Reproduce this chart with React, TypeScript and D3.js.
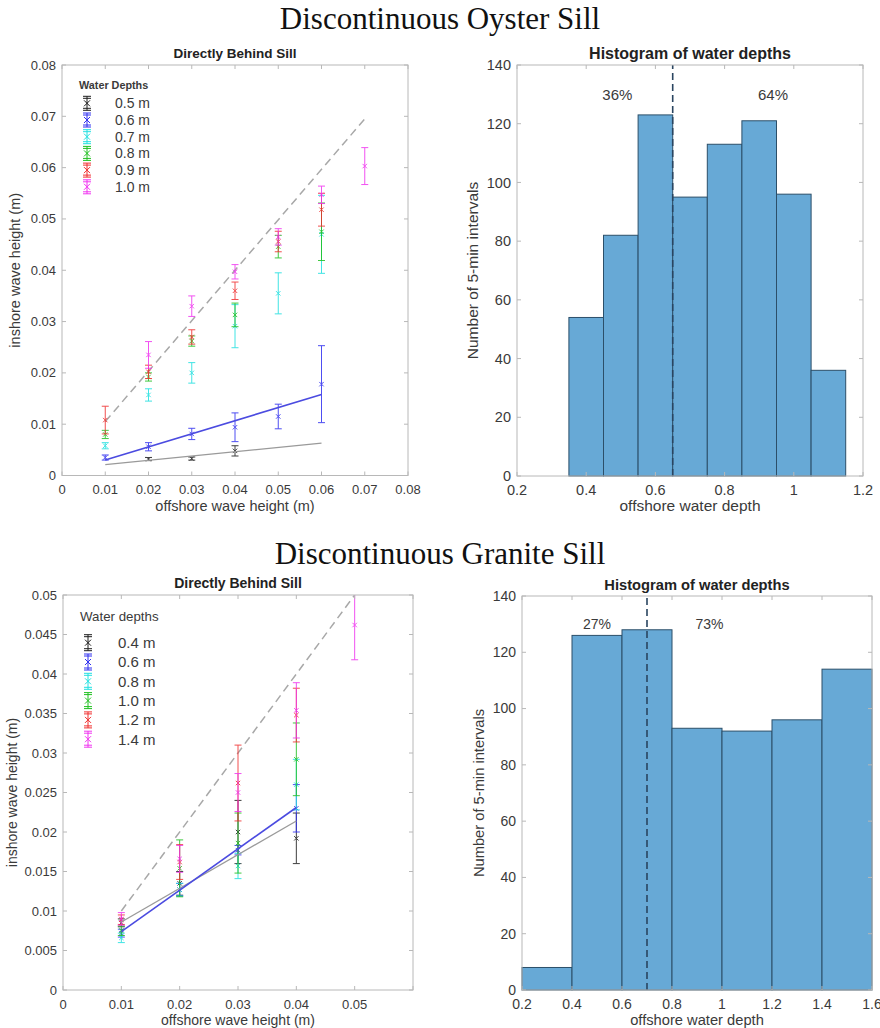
import React from 'react';
import * as d3 from 'd3';

const FONT = "'Liberation Sans', Arial, Helvetica, sans-serif";
const SERIF = "'Liberation Serif', 'Times New Roman', serif";

// ---------- Oyster sill scatter data ----------
const oysterDepthLabels = ['0.5 m', '0.6 m', '0.7 m', '0.8 m', '0.9 m', '1.0 m'];
const oysterX05 = [0.02, 0.03, 0.04];
const oysterY05 = [0.0032, 0.0033, 0.0048];
const oysterE05 = [0.0003, 0.0003, 0.001];
const oysterX06 = [0.01, 0.02, 0.03, 0.04, 0.05, 0.06];
const oysterY06 = [0.0035, 0.0056, 0.0081, 0.0094, 0.0115, 0.0178];
const oysterE06 = [0.0005, 0.0008, 0.0011, 0.0028, 0.0024, 0.0075];
const oysterX07 = [0.01, 0.02, 0.03, 0.04, 0.05, 0.06];
const oysterY07 = [0.0058, 0.0157, 0.02, 0.0291, 0.0355, 0.047];
const oysterE07 = [0.0006, 0.0012, 0.002, 0.0042, 0.004, 0.0076];
const oysterX08 = [0.01, 0.02, 0.03, 0.04, 0.05, 0.06];
const oysterY08 = [0.008, 0.0192, 0.0262, 0.0313, 0.0446, 0.0475];
const oysterE08 = [0.0008, 0.0008, 0.001, 0.0023, 0.0022, 0.0056];
const oysterX09 = [0.01, 0.02, 0.03, 0.04, 0.05, 0.06];
const oysterY09 = [0.0108, 0.0202, 0.027, 0.036, 0.0456, 0.0518];
const oysterE09 = [0.0027, 0.0013, 0.0014, 0.0017, 0.002, 0.0032];
const oysterX10 = [0.02, 0.03, 0.04, 0.05, 0.06, 0.07];
const oysterY10 = [0.0235, 0.033, 0.0397, 0.0465, 0.0547, 0.0603];
const oysterE10 = [0.0026, 0.002, 0.0014, 0.0016, 0.0017, 0.0036];
const oysterOneToOne = { x: [0.01, 0.07], y: [0.0105, 0.0695] };
const oysterFitBlue = { x: [0.01, 0.06], y: [0.003, 0.0158] };
const oysterFitGray = { x: [0.01, 0.06], y: [0.0021, 0.0063] };
const oysterXTicks = [0, 0.01, 0.02, 0.03, 0.04, 0.05, 0.06, 0.07, 0.08];
const oysterYTicks = [0, 0.01, 0.02, 0.03, 0.04, 0.05, 0.06, 0.07, 0.08];

// ---------- Granite sill scatter data ----------
const graniteDepthLabels = ['0.4 m', '0.6 m', '0.8 m', '1.0 m', '1.2 m', '1.4 m'];
const graniteX04 = [0.01, 0.02, 0.03, 0.04];
const graniteY04 = [0.0085, 0.0135, 0.02, 0.0192];
const graniteE04 = [0.0005, 0.0015, 0.004, 0.0032];
const graniteX06 = [0.01, 0.02, 0.03, 0.04];
const graniteY06 = [0.0072, 0.0127, 0.0177, 0.023];
const graniteE06 = [0.0005, 0.0008, 0.0006, 0.003];
const graniteX08 = [0.01, 0.02, 0.03, 0.04];
const graniteY08 = [0.0066, 0.0127, 0.0157, 0.026];
const graniteE08 = [0.0006, 0.0008, 0.0016, 0.0032];
const graniteX10 = [0.01, 0.02, 0.03, 0.04];
const graniteY10 = [0.0075, 0.0154, 0.0186, 0.0292];
const graniteE10 = [0.0006, 0.0036, 0.0038, 0.0046];
const graniteX12 = [0.01, 0.02, 0.03, 0.04];
const graniteY12 = [0.0089, 0.0162, 0.0262, 0.0348];
const graniteE12 = [0.0006, 0.0022, 0.0048, 0.0034];
const graniteX14 = [0.01, 0.02, 0.03, 0.04, 0.05];
const graniteY14 = [0.009, 0.0166, 0.025, 0.0354, 0.0462];
const graniteE14 = [0.0008, 0.0017, 0.0024, 0.0035, 0.0044];
const graniteOneToOne = { x: [0.01, 0.05], y: [0.01, 0.05] };
const graniteFitBlue = { x: [0.01, 0.04], y: [0.0074, 0.0231] };
const graniteFitGray = { x: [0.01, 0.04], y: [0.0086, 0.0214] };
const graniteXTicks = [0, 0.01, 0.02, 0.03, 0.04, 0.05];
const graniteYTicks = [0, 0.005, 0.01, 0.015, 0.02, 0.025, 0.03, 0.035, 0.04, 0.045, 0.05];

// ---------- Histograms ----------
const oysterBinEdges = [0.35, 0.45, 0.55, 0.65, 0.75, 0.85, 0.95, 1.05, 1.15];
const oysterCounts = [54, 82, 123, 95, 113, 121, 96, 36];
const oysterSplit = 0.65;
const oysterPctLabels = ['36%', '64%'];
const oysterPctX = [0.49, 0.94];
const oysterHistXTicks = [0.2, 0.4, 0.6, 0.8, 1, 1.2];

const graniteBinEdges = [0.2, 0.4, 0.6, 0.8, 1.0, 1.2, 1.4, 1.6];
const graniteCounts = [8, 126, 128, 93, 92, 96, 114];
const graniteSplit = 0.7;
const granitePctLabels = ['27%', '73%'];
const granitePctX = [0.5, 0.95];
const graniteHistXTicks = [0.2, 0.4, 0.6, 0.8, 1, 1.2, 1.4, 1.6];
const histYTicks = [0, 20, 40, 60, 80, 100, 120, 140];

const seriesColors = ['#1e1e1e', '#3030f0', '#20e0e0', '#20c020', '#f03030', '#f035f0'];
const BOX = '#b8b8b8';
const TXT = '#3a3a3a';

type Series = { x: number[]; y: number[]; e: number[] };

const fmt = (v: number) => String(+v.toFixed(4));

function Frame({ box, x, y, xTicks, yTicks, xDomainTicks, tickSize }: any) {
  const tl = 4;
  return (
    <g>
      <rect x={box.l} y={box.t} width={box.r - box.l} height={box.b - box.t} fill="none" stroke={BOX} strokeWidth={1} />
      {xDomainTicks.map((v: number, i: number) => (
        <g key={'xt' + i}>
          <line x1={x(v)} x2={x(v)} y1={box.b} y2={box.b - tl} stroke={BOX} />
          <line x1={x(v)} x2={x(v)} y1={box.t} y2={box.t + tl} stroke={BOX} />
        </g>
      ))}
      {yTicks.map((v: number, i: number) => (
        <g key={'yt' + i}>
          <line x1={box.l} x2={box.l + tl} y1={y(v)} y2={y(v)} stroke={BOX} />
          <line x1={box.r} x2={box.r - tl} y1={y(v)} y2={y(v)} stroke={BOX} />
          <text x={box.l - 6} y={y(v)} dy="0.35em" textAnchor="end" fontSize={tickSize} fill={TXT} fontFamily={FONT}>{fmt(v)}</text>
        </g>
      ))}
      {xTicks.map((v: number, i: number) => (
        <text key={'xl' + i} x={x(v)} y={box.b + 13.5 + tickSize * 0.4} textAnchor="middle" fontSize={tickSize} fill={TXT} fontFamily={FONT}>{fmt(v)}</text>
      ))}
    </g>
  );
}

function XMark({ cx, cy, s, color }: any) {
  return (
    <g stroke={color} strokeWidth={1}>
      <line x1={cx - s} y1={cy - s} x2={cx + s} y2={cy + s} />
      <line x1={cx - s} y1={cy + s} x2={cx + s} y2={cy - s} />
    </g>
  );
}

function ScatterPanel({ id, box, xDomain, yDomain, xTicks, xFrameTicks, yTicks, series, oneToOne, fitBlue, fitGray, title, xLabel, yLabel, yLabelX, legend, fs }: any) {
  const x = d3.scaleLinear().domain(xDomain).range([box.l, box.r]);
  const y = d3.scaleLinear().domain(yDomain).range([box.b, box.t]);
  const line = d3.line<[number, number]>().x(d => x(d[0])).y(d => y(d[1]));
  const pts = (f: any) => f.x.map((v: number, i: number) => [v, f.y[i]] as [number, number]);
  const cap = 3.5;
  return (
    <g>
      <defs>
        <clipPath id={id}>
          <rect x={box.l} y={box.t} width={box.r - box.l} height={box.b - box.t} />
        </clipPath>
      </defs>
      <rect x={box.l} y={box.t} width={box.r - box.l} height={box.b - box.t} fill="#fff" />
      <g clipPath={`url(#${id})`}>
        <path d={line(pts(oneToOne)) || ''} stroke="#a8a8a8" strokeWidth={1.5} strokeDasharray="8,5" fill="none" />
        {series.map((s: Series, si: number) => (
          <g key={si} stroke={seriesColors[si]} opacity={0.85}>
            {s.x.map((xv, i) => {
              const cx = x(xv);
              const y1 = y(s.y[i] - s.e[i]);
              const y2 = y(s.y[i] + s.e[i]);
              return (
                <g key={i}>
                  <line x1={cx} x2={cx} y1={y1} y2={y2} strokeWidth={1} />
                  <line x1={cx - cap} x2={cx + cap} y1={y1} y2={y1} strokeWidth={1} />
                  <line x1={cx - cap} x2={cx + cap} y1={y2} y2={y2} strokeWidth={1} />
                  <XMark cx={cx} cy={y(s.y[i])} s={2.2} color={seriesColors[si]} />
                </g>
              );
            })}
          </g>
        ))}
        <path d={line(pts(fitGray)) || ''} stroke="#9a9a9a" strokeWidth={1.3} fill="none" />
        <path d={line(pts(fitBlue)) || ''} stroke="#4b4be0" strokeWidth={1.6} fill="none" />
      </g>
      <Frame box={box} x={x} y={y} xTicks={xTicks} yTicks={yTicks} xDomainTicks={xFrameTicks} tickSize={fs.tick} />
      <text x={(box.l + box.r) / 2} y={box.t - 7} textAnchor="middle" fontSize={fs.title} fontWeight="bold" fill="#222" fontFamily={FONT}>{title}</text>
      <text x={(box.l + box.r) / 2} y={box.b + 35} textAnchor="middle" fontSize={fs.label} fill={TXT} fontFamily={FONT}>{xLabel}</text>
      <text transform={`translate(${yLabelX},${(box.t + box.b) / 2}) rotate(-90)`} textAnchor="middle" fontSize={fs.label} fill={TXT} fontFamily={FONT}>{yLabel}</text>
      <g>
        <text x={legend.titleX} y={legend.titleY} fontSize={legend.titleSize} fontWeight={legend.titleWeight} fill={TXT} fontFamily={FONT}>{legend.title}</text>
        {legend.labels.map((lab: string, i: number) => {
          const cy = legend.y0 + i * legend.dy;
          const c = seriesColors[i];
          const hh = legend.markH / 2;
          return (
            <g key={i}>
              <g stroke={c} strokeWidth={1}>
                <line x1={legend.markX} x2={legend.markX} y1={cy - hh} y2={cy + hh} />
                <line x1={legend.markX - 4} x2={legend.markX + 4} y1={cy - hh} y2={cy - hh} />
                <line x1={legend.markX - 4} x2={legend.markX + 4} y1={cy - hh + 2} y2={cy - hh + 2} />
                <line x1={legend.markX - 4} x2={legend.markX + 4} y1={cy + hh} y2={cy + hh} />
                <line x1={legend.markX - 4} x2={legend.markX + 4} y1={cy + hh - 2} y2={cy + hh - 2} />
                <XMark cx={legend.markX} cy={cy} s={3} color={c} />
              </g>
              <text x={legend.textX} y={cy} dy="0.36em" fontSize={legend.size} fill={TXT} fontFamily={FONT}>{lab}</text>
            </g>
          );
        })}
      </g>
    </g>
  );
}

function HistPanel({ box, xDomain, xTicks, edges, counts, split, pctLabels, pctX, yLabelX, fs }: any) {
  const x = d3.scaleLinear().domain(xDomain).range([box.l, box.r]);
  const y = d3.scaleLinear().domain([0, 140]).range([box.b, box.t]);
  return (
    <g>
      {counts.map((c: number, i: number) => (
        <rect key={i} x={x(edges[i])} y={y(c)} width={x(edges[i + 1]) - x(edges[i])} height={y(0) - y(c)} fill="#67a9d6" stroke="#2c4f69" strokeWidth={1} />
      ))}
      <line x1={x(split)} x2={x(split)} y1={y(0)} y2={y(140)} stroke="#2a4560" strokeWidth={1.6} strokeDasharray="7,4" />
      {pctLabels.map((t: string, i: number) => (
        <text key={i} x={x(pctX[i])} y={y(130)} dy="0.35em" textAnchor="middle" fontSize={fs.pct} fill={TXT} fontFamily={FONT}>{t}</text>
      ))}
      <Frame box={box} x={x} y={y} xTicks={xTicks} yTicks={histYTicks} xDomainTicks={xTicks} tickSize={fs.tick} />
      <text x={(box.l + box.r) / 2} y={box.t - 6} textAnchor="middle" fontSize={fs.title} fontWeight="bold" fill="#222" fontFamily={FONT}>Histogram of water depths</text>
      <text x={(box.l + box.r) / 2} y={box.b + 35} textAnchor="middle" fontSize={fs.label} fill={TXT} fontFamily={FONT}>offshore water depth</text>
      <text transform={`translate(${yLabelX},${(box.t + box.b) / 2}) rotate(-90)`} textAnchor="middle" fontSize={fs.label} fill={TXT} fontFamily={FONT}>Number of 5-min intervals</text>
    </g>
  );
}

export default function App() {
  const oysterSeries: Series[] = [
    { x: oysterX05, y: oysterY05, e: oysterE05 },
    { x: oysterX06, y: oysterY06, e: oysterE06 },
    { x: oysterX07, y: oysterY07, e: oysterE07 },
    { x: oysterX08, y: oysterY08, e: oysterE08 },
    { x: oysterX09, y: oysterY09, e: oysterE09 },
    { x: oysterX10, y: oysterY10, e: oysterE10 },
  ];
  const graniteSeries: Series[] = [
    { x: graniteX04, y: graniteY04, e: graniteE04 },
    { x: graniteX06, y: graniteY06, e: graniteE06 },
    { x: graniteX08, y: graniteY08, e: graniteE08 },
    { x: graniteX10, y: graniteY10, e: graniteE10 },
    { x: graniteX12, y: graniteY12, e: graniteE12 },
    { x: graniteX14, y: graniteY14, e: graniteE14 },
  ];
  return (
    <svg width={880} height={1028} style={{ position: 'absolute', left: 0, top: 0, background: '#fff' }}>
      <rect width={880} height={1028} fill="#fff" />
      <text x={440} y={29} textAnchor="middle" fontSize={31} fill="#111" fontFamily={SERIF}>Discontinuous Oyster Sill</text>
      <text x={440} y={564} textAnchor="middle" fontSize={31} fill="#111" fontFamily={SERIF}>Discontinuous Granite Sill</text>
      <ScatterPanel
        id="clipTL"
        box={{ l: 62, r: 408, t: 65, b: 475.5 }}
        xDomain={[0, 0.08]} yDomain={[0, 0.08]}
        xTicks={oysterXTicks} xFrameTicks={oysterXTicks} yTicks={oysterYTicks}
        series={oysterSeries}
        oneToOne={oysterOneToOne} fitBlue={oysterFitBlue} fitGray={oysterFitGray}
        title="Directly Behind Sill" xLabel="offshore wave height (m)" yLabel="inshore wave height (m)" yLabelX={20}
        fs={{ tick: 13, label: 14.5, title: 13.5 }}
        legend={{ title: 'Water Depths', titleX: 79, titleY: 89, titleSize: 10.8, titleWeight: 'bold', labels: oysterDepthLabels, y0: 103.3, dy: 16.7, markX: 87, textX: 115, size: 14, markH: 14 }}
      />
      <HistPanel
        box={{ l: 517, r: 863, t: 65, b: 476 }}
        xDomain={[0.2, 1.2]} xTicks={oysterHistXTicks}
        edges={oysterBinEdges} counts={oysterCounts} split={oysterSplit}
        pctLabels={oysterPctLabels} pctX={oysterPctX} yLabelX={478}
        fs={{ tick: 14.5, label: 15.5, title: 16, pct: 15 }}
      />
      <ScatterPanel
        id="clipBL"
        box={{ l: 63, r: 413, t: 595, b: 990 }}
        xDomain={[0, 0.06]} yDomain={[0, 0.05]}
        xTicks={graniteXTicks} xFrameTicks={[...graniteXTicks, 0.06]} yTicks={graniteYTicks}
        series={graniteSeries}
        oneToOne={graniteOneToOne} fitBlue={graniteFitBlue} fitGray={graniteFitGray}
        title="Directly Behind Sill" xLabel="offshore wave height (m)" yLabel="inshore wave height (m)" yLabelX={17}
        fs={{ tick: 13, label: 14, title: 14 }}
        legend={{ title: 'Water depths', titleX: 80, titleY: 621, titleSize: 13.3, titleWeight: 'normal', labels: graniteDepthLabels, y0: 642.7, dy: 19.3, markX: 88, textX: 118, size: 15, markH: 16 }}
      />
      <HistPanel
        box={{ l: 522, r: 872, t: 596, b: 990 }}
        xDomain={[0.2, 1.6]} xTicks={graniteHistXTicks}
        edges={graniteBinEdges} counts={graniteCounts} split={graniteSplit}
        pctLabels={granitePctLabels} pctX={granitePctX} yLabelX={484}
        fs={{ tick: 14, label: 14.7, title: 14.7, pct: 14 }}
      />
    </svg>
  );
}
